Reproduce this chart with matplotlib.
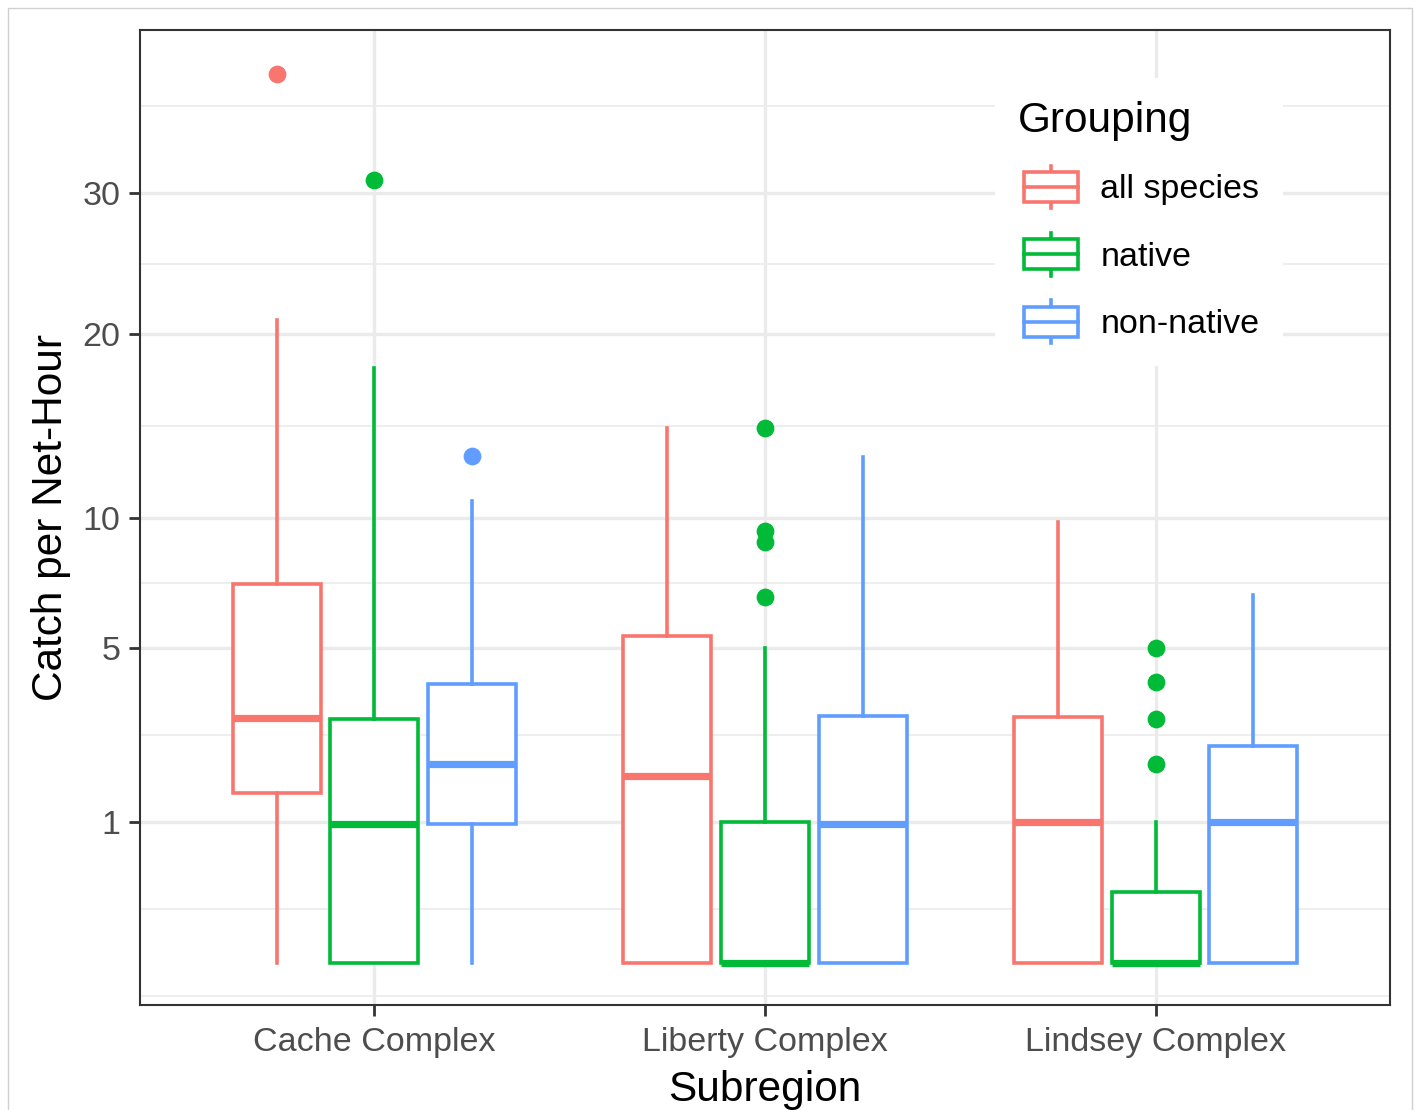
import numpy as np
import matplotlib
matplotlib.use("Agg")
import matplotlib.pyplot as plt
from matplotlib.patches import Rectangle
from matplotlib.lines import Line2D
from matplotlib.legend_handler import HandlerBase

subregions = ["Cache Complex", "Liberty Complex", "Lindsey Complex"]
groupings = ["all species", "native", "non-native"]
colors = ["#F8766D", "#00BA38", "#619CFF"]

# box stats, rows = subregion, cols = grouping
whisker_low = [[0, 0, 0], [0, 0, 0], [0, 0, 0]]
q1 = [[1.45, 0, 0.97], [0, 0, 0], [0, 0, 0]]
median = [[3.04, 0.97, 2.0], [1.77, 0, 0.97], [1.0, 0, 1.0]]
q3 = [[7.25, 3.0, 3.93], [5.4, 1.0, 3.08], [3.05, 0.25, 2.38]]
whisker_high = [[20.9, 17.92, 10.8], [14.47, 5.0, 12.94], [9.83, 1.0, 6.84]]
outliers = [
    [[40.0], [31.0], [13.0]],
    [[], [14.5, 9.45, 8.97, 6.77], []],
    [[], [5.0, 4.0, 3.0, 2.0], []],
]

y_breaks = [1, 5, 10, 20, 30]
y_minor = [-0.057, 0.146, 2.618, 7.28, 14.57, 24.75, 37.2]

plt.rcParams["font.family"] = ["Liberation Sans", "DejaVu Sans"]


def fwd(v):
    v = np.asarray(v, dtype=float)
    return np.sign(v) * np.sqrt(np.abs(v))


def inv(v):
    v = np.asarray(v, dtype=float)
    return np.sign(v) * v ** 2


fig = plt.figure(figsize=(14.18, 11.10), dpi=100)
W, H = 1418, 1110
ax = fig.add_axes([140 / W, 1 - 1005 / H, 1250 / W, 975 / H])
ax.set_yscale("function", functions=(fwd, inv))

# grid
for v in y_minor:
    ax.axhline(v, color="#EBEBEB", lw=1.2, zorder=0)
for v in y_breaks:
    ax.axhline(v, color="#EBEBEB", lw=2.4, zorder=0)
for i in range(len(subregions)):
    ax.axvline(i + 1, color="#EBEBEB", lw=2.4, zorder=0)

offsets = [-0.25, 0, 0.25]
box_w = 0.225
lw = 2.6
for i, sub in enumerate(subregions):
    for j, grp in enumerate(groupings):
        st = dict(whislo=whisker_low[i][j], q1=q1[i][j], med=median[i][j],
                  q3=q3[i][j], whishi=whisker_high[i][j], fliers=outliers[i][j])
        c = colors[j]
        ax.bxp([st], positions=[i + 1 + offsets[j]], widths=box_w,
               showcaps=False, patch_artist=True,
               boxprops=dict(facecolor="white", edgecolor=c, linewidth=lw),
               medianprops=dict(color=c, linewidth=2 * lw, solid_capstyle="butt"),
               whiskerprops=dict(color=c, linewidth=lw),
               flierprops=dict(marker="o", markerfacecolor=c, markeredgecolor=c,
                               markersize=12.8, markeredgewidth=0),
               manage_ticks=False, zorder=2)

ax.set_xlim(0.4, 3.6)
ax.set_ylim(-0.091, 44.05)
ax.set_xticks([1, 2, 3])
ax.set_xticklabels(subregions)
ax.set_yticks(y_breaks)
ax.set_yticklabels([str(b) for b in y_breaks])
ax.yaxis.set_minor_locator(matplotlib.ticker.NullLocator())
ax.tick_params(axis="both", length=8, width=2, color="#333333",
               labelsize=24.5, labelcolor="#4D4D4D", pad=6)
ax.tick_params(axis="x", pad=7.5)
for s in ax.spines.values():
    s.set_color("#333333")
    s.set_linewidth(1.5)
ax.set_xlabel("Subregion", fontsize=30.5, labelpad=9)
ax.set_ylabel("Catch per Net-Hour", fontsize=30.5, labelpad=8)


class BoxHandler(HandlerBase):
    def create_artists(self, legend, orig_handle, xdescent, ydescent,
                       width, height, fontsize, trans):
        c = orig_handle.get_color()
        x0, y0 = -xdescent + 4, -ydescent
        bh = height * 0.7
        by = y0 + (height - bh) / 2
        cx = x0 + width / 2
        r = Rectangle((x0, by), width, bh, facecolor="white", edgecolor=c,
                      linewidth=lw, transform=trans)
        mid = Line2D([x0, x0 + width], [y0 + height / 2] * 2, color=c,
                     linewidth=lw, transform=trans)
        top = Line2D([cx, cx], [by + bh, y0 + height], color=c, linewidth=lw,
                     transform=trans)
        bot = Line2D([cx, cx], [y0, by], color=c, linewidth=lw, transform=trans)
        return [top, bot, r, mid]


handles = [Line2D([], [], color=c) for c in colors]
leg = ax.legend(handles, groupings, handler_map={Line2D: BoxHandler()},
                title="Grouping", loc="upper left",
                bbox_to_anchor=(995 / W, 1 - 78 / H), bbox_transform=fig.transFigure,
                borderaxespad=0, borderpad=0.68, fontsize=24.5, title_fontsize=30.5,
                handlelength=1.6, handleheight=1.56, handletextpad=0.82,
                labelspacing=0.72, alignment="left", frameon=True, fancybox=False)
leg.get_frame().set_facecolor("white")
leg.get_frame().set_edgecolor("none")
leg.get_frame().set_alpha(1)

fig.add_artist(Rectangle((8 / W, -0.02), 1404 / W, 1.02 - 8 / H, fill=False,
                         edgecolor="#D0D0D0", linewidth=1, transform=fig.transFigure))

fig.savefig("out.png", dpi=100)
